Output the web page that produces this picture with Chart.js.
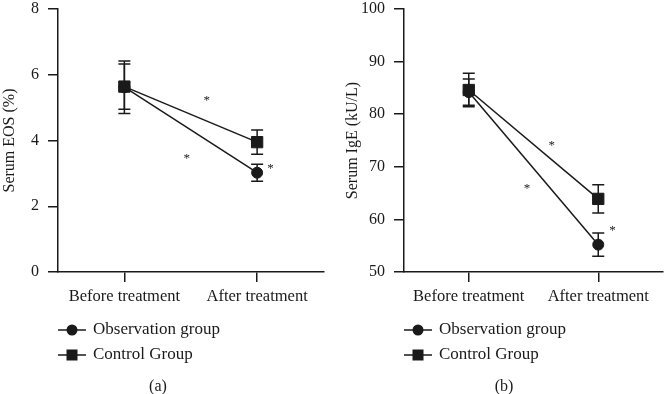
<!DOCTYPE html>
<html>
<head>
<meta charset="utf-8">
<script src="https://cdn.jsdelivr.net/npm/chart.js@4.4.1/dist/chart.umd.min.js"></script>
<style>
  body { margin: 0; background: #fff; }
  #wrap { position: relative; width: 672px; height: 394px; background: #fff; }
  #wrap canvas { position: absolute; top: 0; }
</style>
</head>
<body>
<div id="wrap">
  <canvas id="chartA" width="336" height="394" style="left:0"></canvas>
  <canvas id="chartB" width="336" height="394" style="left:336px"></canvas>
</div>
<script>
// data
const categories = ['Before treatment', 'After treatment'];
const seriesNames = ['Observation group', 'Control Group'];

// (a) serum EOS (%)
const eosObs = [5.62, 3.02];
const eosObsErr = [0.80, 0.26];
const eosCtrl = [5.64, 3.95];
const eosCtrlErr = [0.69, 0.37];
const eosTicks = [0, 2, 4, 6, 8];
// asterisks: [category index (fractional), value]
const eosStars = [[0.62, 5.29], [0.47, 3.52], [1.10, 3.22]];

// (b) serum IgE (kU/L)
const igeObs = [84.2, 55.2];
const igeObsErr = [2.5, 2.2];
const igeCtrl = [84.6, 63.9];
const igeCtrlErr = [3.2, 2.7];
const igeTicks = [50, 60, 70, 80, 90, 100];
const igeStars = [[0.64, 74.5], [0.45, 66.2], [1.11, 58.3]];

const FONT = '"Liberation Serif", "Times New Roman", serif';
const INK = '#1a1a1a';

// error bars, asterisks, legend and panel letter
const extrasPlugin = {
    id: 'extras',
    beforeDatasetsDraw(chart, args, opts) {
        const ctx = chart.ctx;
        const xs = chart.scales.x, ys = chart.scales.y;
        ctx.save();
        ctx.strokeStyle = INK;
        ctx.lineWidth = 1.5;
        chart.data.datasets.forEach((ds, i) => {
            ds.data.forEach((v, j) => {
                const e = opts.errors[i][j];
                const x = xs.getPixelForValue(j);
                const y1 = ys.getPixelForValue(v + e);
                const y2 = ys.getPixelForValue(v - e);
                ctx.beginPath();
                ctx.moveTo(x, y1); ctx.lineTo(x, y2);
                ctx.moveTo(x - 6, y1); ctx.lineTo(x + 6, y1);
                ctx.moveTo(x - 6, y2); ctx.lineTo(x + 6, y2);
                ctx.stroke();
            });
        });
        ctx.restore();
    },
    afterDraw(chart, args, opts) {
        const ctx = chart.ctx;
        const xs = chart.scales.x, ys = chart.scales.y;
        const area = chart.chartArea;
        ctx.save();
        ctx.fillStyle = INK;
        ctx.strokeStyle = INK;
        // asterisks
        ctx.font = '13px ' + FONT;
        ctx.textAlign = 'center';
        ctx.textBaseline = 'middle';
        opts.stars.forEach(s => {
            ctx.fillText('*', xs.getPixelForValue(s[0]), ys.getPixelForValue(s[1]) + 2);
        });
        // legend
        const x0 = area.left;
        ctx.font = '17px ' + FONT;
        ctx.textAlign = 'left';
        seriesNames.forEach((name, i) => {
            const y = area.bottom + 58 + i * 25;
            ctx.lineWidth = 1.5;
            ctx.beginPath();
            ctx.moveTo(x0, y); ctx.lineTo(x0 + 28, y);
            ctx.stroke();
            const cx = x0 + 14;
            if (i === 0) {
                ctx.beginPath();
                ctx.arc(cx, y, 5.5, 0, Math.PI * 2);
                ctx.fill();
            } else {
                ctx.fillRect(cx - 5.5, y - 5.5, 11, 11);
            }
            ctx.fillText(name, x0 + 35, y);
        });
        // panel letter
        ctx.font = '16px ' + FONT;
        ctx.textAlign = 'center';
        ctx.fillText(opts.caption, x0 + 100, area.bottom + 115);
        ctx.restore();
    }
};

function makePanel(id, title, obs, obsErr, ctrl, ctrlErr, ticks, stars, caption, pad, yWidth) {
    const lineDs = (label, data, style, radius) => ({
        label: label,
        data: data,
        borderColor: INK,
        borderWidth: 1.5,
        backgroundColor: INK,
        pointStyle: style,
        pointRadius: radius,
        pointBackgroundColor: INK,
        pointBorderColor: INK,
        pointBorderWidth: 1,
        tension: 0,
        fill: false
    });
    return new Chart(document.getElementById(id).getContext('2d'), {
        type: 'line',
        data: {
            labels: categories,
            datasets: [
                lineDs(seriesNames[0], obs, 'circle', 5.5),
                lineDs(seriesNames[1], ctrl, 'rect', 8)
            ]
        },
        options: {
            responsive: false,
            animation: false,
            devicePixelRatio: 1,
            layout: { padding: pad },
            plugins: {
                legend: { display: false },
                tooltip: { enabled: false },
                extras: {
                    errors: [obsErr, ctrlErr],
                    stars: stars,
                    caption: caption
                }
            },
            scales: {
                x: {
                    type: 'category',
                    offset: true,
                    grid: { display: true, drawOnChartArea: false, drawTicks: true, tickLength: 10, color: INK, lineWidth: 1.5 },
                    border: { display: true, color: INK, width: 1.5 },
                    ticks: { color: INK, font: { family: FONT, size: 16.5 }, padding: 5, maxRotation: 0, autoSkip: false },
                    afterFit: s => { s.height = 40; s.paddingLeft = 0; s.paddingRight = 0; }
                },
                y: {
                    min: ticks[0],
                    max: ticks[ticks.length - 1],
                    afterBuildTicks: s => { s.ticks = ticks.map(v => ({ value: v })); },
                    grid: { display: true, drawOnChartArea: false, drawTicks: true, tickLength: 10, color: INK, lineWidth: 1.5 },
                    border: { display: true, color: INK, width: 1.5 },
                    ticks: { color: INK, font: { family: FONT, size: 16 }, padding: 9 },
                    title: { display: true, text: title, color: INK, font: { family: FONT, size: 16 }, padding: { top: 0, bottom: 0 } },
                    afterFit: s => { s.width = yWidth; s.paddingTop = 0; s.paddingBottom = 0; }
                }
            }
        },
        plugins: [extrasPlugin]
    });
}

makePanel('chartA', 'Serum EOS (%)', eosObs, eosObsErr, eosCtrl, eosCtrlErr, eosTicks, eosStars, '(a)',
    { left: 0, top: 6, right: 12.5, bottom: 82 }, 58);
makePanel('chartB', 'Serum IgE (kU/L)', igeObs, igeObsErr, igeCtrl, igeCtrlErr, igeTicks, igeStars, '(b)',
    { left: 7, top: 6, right: 2, bottom: 82 }, 61);
</script>
</body>
</html>
